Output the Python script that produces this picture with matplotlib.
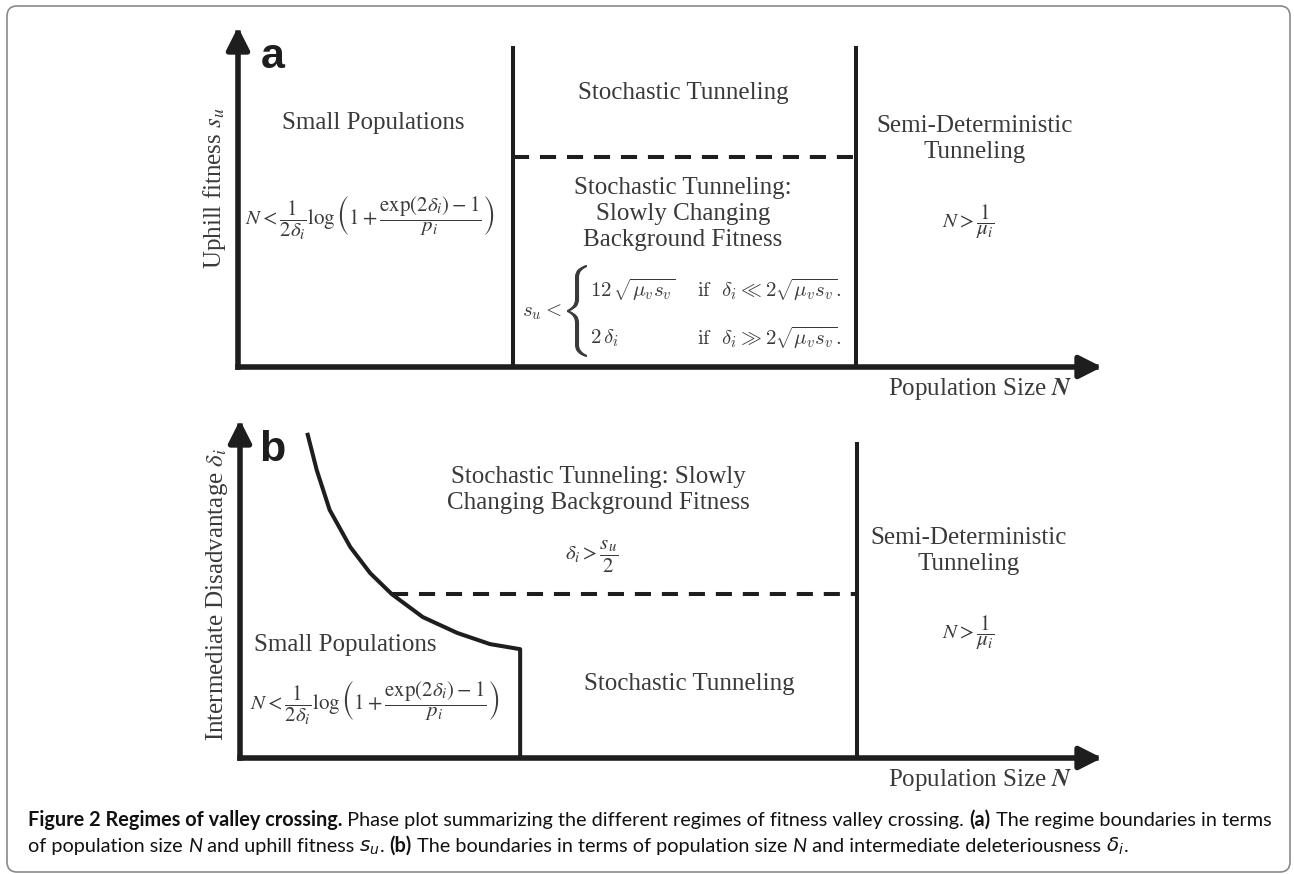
import matplotlib
matplotlib.use("Agg")
import matplotlib.pyplot as plt
from matplotlib.patches import FancyBboxPatch, PathPatch
from matplotlib.textpath import TextPath
from matplotlib.font_manager import FontProperties
from matplotlib.transforms import Affine2D

W, H = 1294, 874

# regime boundaries, as fractions of each axis (N to the right, fitness up)
# panel a: N vs uphill fitness s_u
a_small_N = 0.318
a_semi_N = 0.715
a_su_split = 0.618
a_top = 0.944

# panel b: N vs intermediate disadvantage delta_i
b_curve_N = [0.078, 0.089, 0.104, 0.128, 0.151, 0.176, 0.212, 0.252, 0.290, 0.325]
b_curve_d = [0.962, 0.852, 0.734, 0.624, 0.547, 0.485, 0.417, 0.370, 0.337, 0.322]
b_split_idx = 5
b_semi_N = 0.716
b_top = 0.935

ink = "#1e1e1e"
txt = "#3a3a3a"
serif = "Liberation Serif"
sans = ["Lato", "DejaVu Sans"]

fig = plt.figure(figsize=(W / 100, H / 100), dpi=100)

# page axes in pixel units, used for text and the frame
page = fig.add_axes([0, 0, 1, 1])
page.set_xlim(0, W)
page.set_ylim(H, 0)
page.axis("off")

page.add_patch(FancyBboxPatch((7, 6), 1283, 866, boxstyle="round,pad=0,rounding_size=10",
                              ec="#8a8a8a", fc="none", lw=1.2))


def panel(x0, y0, x1, y1):
    ax = fig.add_axes([x0 / W, 1 - y0 / H, (x1 - x0) / W, (y0 - y1) / H])
    ax.set_xlim(0, 1)
    ax.set_ylim(0, 1)
    ax.axis("off")
    ax.patch.set_visible(False)
    arrow = dict(arrowstyle="-|>,head_length=0.75,head_width=0.38", mutation_scale=18,
                 lw=4, color=ink, shrinkA=0, shrinkB=0, capstyle="projecting")
    ax.annotate("", xy=(1, 0), xytext=(0, 0), xycoords="axes fraction", arrowprops=arrow)
    ax.annotate("", xy=(0, 1), xytext=(0, 0), xycoords="axes fraction", arrowprops=arrow)
    return ax


dash = (0, (4.0, 2.7))
lw = 2.9

# ---- panel a
ax1 = panel(238, 367, 1102, 27)
ax1.plot([a_small_N, a_small_N], [0, a_top], color=ink, lw=lw, clip_on=False, solid_capstyle="butt")
ax1.plot([a_semi_N, a_semi_N], [0, a_top], color=ink, lw=lw, clip_on=False, solid_capstyle="butt")
ax1.plot([a_small_N, a_semi_N], [a_su_split, a_su_split], color=ink, lw=lw, ls=dash, clip_on=False)

# ---- panel b
ax2 = panel(240, 758, 1102, 420)
ax2.plot(b_curve_N + [b_curve_N[-1]], b_curve_d + [0], color=ink, lw=lw, clip_on=False,
         solid_joinstyle="round", solid_capstyle="butt")
ax2.plot([b_curve_N[b_split_idx], b_semi_N], [b_curve_d[b_split_idx]] * 2, color=ink, lw=lw,
         ls=dash, clip_on=False)
ax2.plot([b_semi_N, b_semi_N], [0, b_top], color=ink, lw=lw, clip_on=False, solid_capstyle="butt")

# ---- texts
lab = dict(family=serif, fontsize=18, color=txt, ha="center", va="center")
frm = dict(fontsize=15, color=txt, ha="center", va="center", math_fontfamily="stix")
gap = 1.22

small_f = r"$N < \dfrac{1}{2\delta_i}\log\left(1+\dfrac{\exp(2\delta_i)-1}{p_i}\right)$"
semi_f = r"$N > \dfrac{1}{\mu_i}$"

page.text(273, 57, "a", family="Liberation Sans", weight="bold", fontsize=31, color=ink,
          ha="center", va="center")
page.text(215, 188, r"Uphill fitness $\boldsymbol{s_u}$", rotation=90, math_fontfamily="stix", **lab)
page.text(373, 123, "Small Populations", **lab)
page.text(370, 218, small_f, **frm)
page.text(683, 93, "Stochastic Tunneling", **lab)
page.text(683, 214, "Stochastic Tunneling:\nSlowly Changing\nBackground Fitness", linespacing=gap, **lab)
page.text(975, 139, "Semi-Deterministic\nTunneling", linespacing=gap, **lab)
page.text(942, 222, semi_f, **{**frm, "ha": "left"})
page.text(1073, 389, r"Population Size $\boldsymbol{N}$", math_fontfamily="stix",
          **{**lab, "ha": "right"})

# piecewise bound in computer modern
cm = dict(fontsize=15, color=txt, va="center", math_fontfamily="cm")
page.text(542, 312, r"$s_u <$", ha="center", **cm)
page.text(590, 290, r"$12\,\sqrt{\mu_v s_v}$", ha="left", **cm)
page.text(697, 290, r"$\mathrm{if}\ \ \delta_i \ll 2\sqrt{\mu_v s_v}.$", ha="left", **cm)
page.text(590, 338, r"$2\,\delta_i$", ha="left", **cm)
page.text(697, 338, r"$\mathrm{if}\ \ \delta_i \gg 2\sqrt{\mu_v s_v}.$", ha="left", **cm)
tp = TextPath((0, 0), r"$\{$", prop=FontProperties(size=20, math_fontfamily="cm"))
bb = tp.get_extents()
tr = Affine2D().translate(-bb.x0, -bb.y0).scale(20 / bb.width, -92 / bb.height).translate(567, 357)
page.add_patch(PathPatch(tr.transform_path(tp), fc=txt, ec="none"))

page.text(272, 450, "b", family="Liberation Sans", weight="bold", fontsize=31, color=ink,
          ha="center", va="center")
page.text(217, 594, r"Intermediate Disadvantage $\delta_i$", rotation=90, math_fontfamily="stix", **lab)
page.text(598, 490, "Stochastic Tunneling: Slowly\nChanging Background Fitness", linespacing=gap, **lab)
page.text(592, 557, r"$\delta_i > \dfrac{s_u}{2}$", **frm)
page.text(969, 551, "Semi-Deterministic\nTunneling", linespacing=gap, **lab)
page.text(942, 633, semi_f, **{**frm, "ha": "left"})
page.text(345, 645, "Small Populations", **lab)
page.text(375, 703, small_f, **frm)
page.text(689, 684, "Stochastic Tunneling", **lab)
page.text(1073, 780, r"Population Size $\boldsymbol{N}$", math_fontfamily="stix",
          **{**lab, "ha": "right"})

# ---- caption, laid out piece by piece
R = dict(family=sans)
B = dict(family=sans, weight="bold")
I = dict(family=sans, style="italic")
M = dict(family=sans, math_fontfamily="dejavusans")
line1 = [("Figure 2 Regimes of valley crossing.", B),
         (" Phase plot summarizing the different regimes of fitness valley crossing. ", R),
         ("(a)", B), (" The regime boundaries in terms", R)]
line2 = [("of population size ", R), ("N", I), (" and uphill fitness ", R), (r"$s_u$", M),
         (". ", R), ("(b)", B), (" The boundaries in terms of population size ", R), ("N", I),
         (" and intermediate deleteriousness ", R), (r"$\delta_i$", M), (".", R)]

renderer = fig.canvas.get_renderer()


def width(s, kw, size):
    if s.startswith("$"):
        t = page.text(0, 0, s, fontsize=size, **kw)
        w = t.get_window_extent(renderer).width
    else:
        t = page.text(0, 0, "|" + s + "|", fontsize=size, **kw)
        t0 = page.text(0, 0, "||", fontsize=size, **kw)
        w = t.get_window_extent(renderer).width - t0.get_window_extent(renderer).width
        t0.remove()
    t.remove()
    return w


size = 12.0
total = sum(width(s, kw, size) for s, kw in line1)
size = size * 1235 / total


def caption(pieces, x, y):
    for s, kw in pieces:
        page.text(x, y, s, fontsize=size, color="#111111", ha="left", va="baseline", **kw)
        x += width(s, kw, size)


caption(line1, 28, 826)
caption(line2, 28, 852)

fig.savefig("out.png", dpi=100)
